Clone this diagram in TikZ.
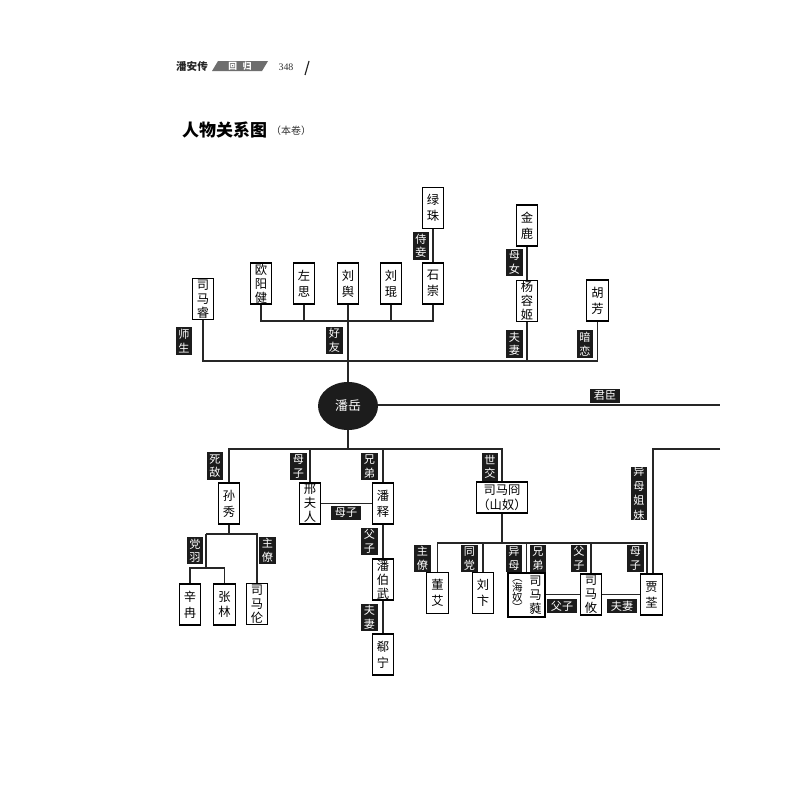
\documentclass[tikz,border=0pt]{standalone}
\usepackage{fontspec}
\setmainfont{Liberation Serif}
\newfontfamily\cjk{Noto Sans CJK SC}
\usetikzlibrary{shapes.geometric}
\definecolor{labk}{HTML}{1C1C1C}
\definecolor{lnk}{HTML}{262626}
\definecolor{hdrgray}{HTML}{6E6E6E}
\tikzset{
  conn/.style={draw=lnk, line width=0.95pt},
  box/.style={draw=black, line width=0.9pt, fill=white, inner sep=0pt, align=center,
    minimum width=6.4mm, minimum height=12.3mm},
  boxtwo/.style={box, font=\cjk\fontsize{10.5}{13.5}\selectfont},
  boxthree/.style={box, font=\cjk\fontsize{10.5}{12}\selectfont},
  lab/.style={fill=labk, text=white, inner sep=0pt, align=center,
    minimum width=4.9mm, minimum height=8.3mm, font=\cjk\fontsize{9.5}{11.5}\selectfont},
  hlab/.style={fill=labk, text=white, inner sep=0pt,
    minimum width=9mm, minimum height=4.3mm, font=\cjk\fontsize{9.5}{10}\selectfont},
  coltext/.style={inner sep=0pt, align=center},
}
\begin{document}
\begin{tikzpicture}[x=0.3mm,y=-0.3mm]
\useasboundingbox (0,0) rectangle (800,800);
\fill[white] (0,0) rectangle (800,800);

% header
\node[font=\cjk\bfseries\fontsize{9}{9}\selectfont, text=black!85] (hdr) at (192,67) {潘安传};
\fill[hdrgray] (212,71) -- (218,61) -- (268,61) -- (262,71) -- cycle;
\node[font=\cjk\bfseries\fontsize{7.5}{8}\selectfont, text=white] (hdrtag) at (240,66) {回\hspace{5pt}归};
\node[font=\fontsize{8.5}{9}\selectfont, text=black!80] (pgno) at (286,67) {348};
\draw[line width=1pt, black!85] (305,75) -- (309,61);

% title
\node[font=\cjk\bfseries\fontsize{14.5}{15}\selectfont, anchor=west, inner sep=0pt] (title) at (182,130) {人物关系图};
\node[font=\cjk\fontsize{8.5}{9}\selectfont, anchor=west, inner sep=0pt, text=black!80] (sub) at (271,131) {（本卷）};

% top boxes
\node[boxtwo] (lvzhu) at (433,208) {绿\\珠};
\node[boxtwo] (shichong) at (433,283.5) {石\\崇};
\node[boxtwo] (liukun) at (391,283.5) {刘\\琨};
\node[boxtwo] (liuyu) at (348,283.5) {刘\\舆};
\node[boxtwo] (zuosi) at (304,283.5) {左\\思};
\node[boxthree] (ouyang) at (261,283.5) {欧\\阳\\健};
\node[boxthree] (simarui) at (203,299) {司\\马\\睿};
\node[boxtwo] (jinlu) at (527,225.5) {金\\鹿};
\node[boxthree] (yangrongji) at (527,301) {杨\\容\\姬};
\node[boxtwo] (hufang) at (597.5,300.5) {胡\\芳};

% center
\node[ellipse, fill=labk, text=white, inner sep=0pt, minimum width=18mm, minimum height=14.4mm,
  font=\cjk\fontsize{11}{12}\selectfont] (panyue) at (348,406) {潘岳};

% lower boxes
\node[boxtwo] (sunxiu) at (229,503.5) {孙\\秀};
\node[boxthree] (xing) at (310,503.5) {邢\\夫\\人};
\node[boxtwo] (panshi) at (383,503.5) {潘\\释};
\node[boxthree] (panbowu) at (383,579.5) {潘\\伯\\武};
\node[boxtwo] (xining) at (383,654.5) {郗\\宁};
\node[boxtwo] (xinran) at (190,604.5) {辛\\冉};
\node[boxtwo] (zhanglin) at (224.5,604.5) {张\\林};
\node[boxthree] (simalun) at (257,604) {司\\马\\伦};
\node[box, minimum width=15.3mm, minimum height=9.3mm, font=\cjk\fontsize{10.5}{12.5}\selectfont] (simajiong) at (502,497.5) {司马冏\\（山奴）};
\node[boxtwo] (dongai) at (437.5,593) {董\\艾};
\node[boxtwo] (liubian) at (483,593) {刘\\卞};
\node[box, minimum width=11.1mm, minimum height=13.2mm] (simarui2) at (526.5,595) {};
\node[coltext, font=\cjk\fontsize{10.5}{12}\selectfont] (ruia) at (535.5,595) {司\\马\\蕤};
\node[coltext, font=\cjk\fontsize{9}{8.4}\selectfont] (ruib) at (517.5,595.5) {︵\\海\\奴\\︶};
\node[boxthree] (simayou) at (591,594.5) {司\\马\\攸};
\node[boxtwo] (jiaquan) at (651.5,594.5) {贾\\荃};

% coordinates
\coordinate (fb) at (0,321);
\coordinate (my) at (0,361);
\coordinate (lb) at (0,449);
\coordinate (sb) at (0,534);
\coordinate (ssb) at (0,568);
\coordinate (jb) at (0,543);
\coordinate (jcend) at (720,405);
\coordinate (jbL) at (437.5,543);
\coordinate (jbR) at (647,543);
\coordinate (sx1) at (206,534);
\coordinate (sx2) at (257,534);
\coordinate (sy1) at (190,568);
\coordinate (sy2) at (224.5,568);
\coordinate (rtop) at (653,449);
\coordinate (rend) at (720,449);

% top connectors
\draw[conn] (lvzhu.south) -- (shichong.north);
\draw[conn] (ouyang.south) -- (ouyang.south |- fb) -- (shichong.south |- fb) -- (shichong.south);
\draw[conn] (zuosi.south) -- (zuosi.south |- fb);
\draw[conn] (liukun.south) -- (liukun.south |- fb);
\draw[conn] (liuyu.south) -- (panyue.north);
\draw[conn] (simarui.south) -- (simarui.south |- my) -- (hufang.south |- my) -- (hufang.south);
\draw[conn] (jinlu.south) -- (yangrongji.north);
\draw[conn] (yangrongji.south) -- (yangrongji.south |- my);
\draw[conn] (panyue.east |- jcend) -- (jcend);

% lower connectors
\draw[conn] (panyue.south) -- (panyue.south |- lb);
\draw[conn] (sunxiu.north) -- (sunxiu.north |- lb) -- (simajiong.north |- lb) -- (simajiong.north);
\draw[conn] (xing.north |- lb) -- (xing.north);
\draw[conn] (panshi.north |- lb) -- (panshi.north);
\draw[conn] (xing.east) -- (panshi.west);
\draw[conn] (panshi.south) -- (panbowu.north);
\draw[conn] (panbowu.south) -- (xining.north);
\draw[conn] (sunxiu.south) -- (sunxiu.south |- sb);
\draw[conn] (sx1) -- (sx2) -- (simalun.north);
\draw[conn] (sx1) -- (sx1 |- ssb);
\draw[conn] (xinran.north) -- (sy1) -- (sy2) -- (zhanglin.north);
\draw[conn] (simajiong.south) -- (simajiong.south |- jb);
\draw[conn] (dongai.north) -- (jbL) -- (jbR) -- (jbR |- jiaquan.north);
\draw[conn] (liubian.north |- jb) -- (liubian.north);
\draw[conn] (simarui2.north |- jb) -- (simarui2.north);
\draw[conn] (simayou.north |- jb) -- (simayou.north);
\draw[conn] (simarui2.east |- simayou.west) -- (simayou.west);
\draw[conn] (simayou.east) -- (jiaquan.west);
\draw[conn] (rend) -- (rtop) -- (rtop |- jiaquan.north);

% labels
\node[lab] (lshiqie) at (421,246) {侍\\妾};
\node[lab] (lmunv) at (514.5,262.5) {母\\女};
\node[lab] (lfuqi1) at (514.5,344) {夫\\妻};
\node[lab] (lanlian) at (585,344) {暗\\恋};
\node[lab] (lhaoyou) at (334.5,340.5) {好\\友};
\node[lab] (lshisheng) at (184,341) {师\\生};
\node[hlab] (ljunchen) at (605,396) {君臣};
\node[lab] (lsidi) at (215,466) {死\\敌};
\node[lab] (lmuzi1) at (298.5,466.5) {母\\子};
\node[lab] (lxiongdi1) at (369.5,466.5) {兄\\弟};
\node[lab] (lshijiao) at (490,467) {世\\交};
\node[hlab] (lmuzi2) at (346,513) {母子};
\node[lab] (lfuzi1) at (369.5,541.5) {父\\子};
\node[lab] (lfuqi2) at (369.5,617.5) {夫\\妻};
\node[lab] (ldangyu) at (195,550.5) {党\\羽};
\node[lab] (lzhuliao1) at (267.5,550.5) {主\\僚};
\node[lab] (lzhuliao2) at (422.5,558.5) {主\\僚};
\node[lab] (ltongdang) at (469.5,558.5) {同\\党};
\node[lab] (lyimu) at (514,558.5) {异\\母};
\node[lab] (lxiongdi2) at (538,558.5) {兄\\弟};
\node[lab] (lfuzi2) at (579,558.5) {父\\子};
\node[lab] (lmuzi3) at (635.5,558.5) {母\\子};
\node[hlab] (lfuzi3) at (562,606) {父子};
\node[hlab] (lfuqi3) at (622,606) {夫妻};
\node[lab, minimum height=15.3mm, font=\cjk\fontsize{9.5}{12.3}\selectfont] (lyimujie) at (639,493.5) {异\\母\\姐\\妹};
\end{tikzpicture}
\end{document}
